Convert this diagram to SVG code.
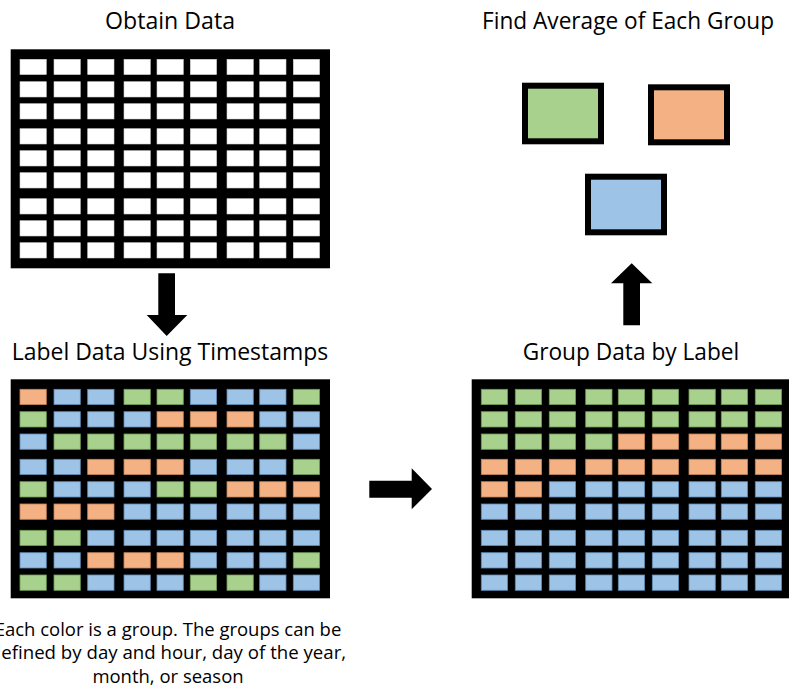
<svg xmlns="http://www.w3.org/2000/svg" xmlns:xlink="http://www.w3.org/1999/xlink" width="789" height="693" viewBox="0 0 789 693">
<style>
.t{font-family:"Open Sans","Noto Sans","Liberation Sans",sans-serif;fill:#000;text-anchor:middle}
.title{font-size:23.5px}
.note{font-size:19px}
.bg{fill:#000}
.w{fill:#fff;stroke:#d0d0d0;stroke-width:0.6}
.g{fill:#A9D18E;stroke:#6f9a55;stroke-width:0.8}
.o{fill:#F4B183;stroke:#c0835a;stroke-width:0.8}
.b{fill:#9DC3E6;stroke:#5f8bb3;stroke-width:0.8}
.box{stroke:#000;stroke-width:6}
.arrow{fill:#000}
</style>
<defs>
<rect id="c" width="26.3" height="15.3"/>
<g id="rowL">
<use xlink:href="#c" x="20"/><use xlink:href="#c" x="54"/><use xlink:href="#c" x="87.7"/>
<use xlink:href="#c" x="124"/><use xlink:href="#c" x="157"/><use xlink:href="#c" x="190.3"/>
<use xlink:href="#c" x="227"/><use xlink:href="#c" x="259.7"/><use xlink:href="#c" x="293.3"/>
</g>
<g id="rowR">
<use xlink:href="#c" x="481.3"/><use xlink:href="#c" x="515.3"/><use xlink:href="#c" x="549.3"/>
<use xlink:href="#c" x="585.7"/><use xlink:href="#c" x="618.3"/><use xlink:href="#c" x="652.3"/>
<use xlink:href="#c" x="689"/><use xlink:href="#c" x="721.3"/><use xlink:href="#c" x="755.3"/>
</g>
</defs>
<rect width="789" height="693" fill="#fff"/>

<g id="title-obtain"><text class="t title" x="170" y="28.5" textLength="130" lengthAdjust="spacingAndGlyphs">Obtain Data</text></g>
<g id="title-average"><text class="t title" x="628" y="28.5" textLength="292" lengthAdjust="spacingAndGlyphs">Find Average of Each Group</text></g>
<g id="title-label"><text class="t title" x="170" y="360" textLength="316.6" lengthAdjust="spacingAndGlyphs">Label Data Using Timestamps</text></g>
<g id="title-group"><text class="t title" x="631" y="360" textLength="216.6" lengthAdjust="spacingAndGlyphs">Group Data by Label</text></g>

<g id="grid-obtain">
<rect class="bg" x="10.7" y="49.3" width="319.3" height="219"/>
<use xlink:href="#rowL" class="w" y="59.3"/>
<use xlink:href="#rowL" class="w" y="81.7"/>
<use xlink:href="#rowL" class="w" y="103.7"/>
<use xlink:href="#rowL" class="w" y="128.7"/>
<use xlink:href="#rowL" class="w" y="150.7"/>
<use xlink:href="#rowL" class="w" y="172.7"/>
<use xlink:href="#rowL" class="w" y="198.7"/>
<use xlink:href="#rowL" class="w" y="220.7"/>
<use xlink:href="#rowL" class="w" y="242.7"/>
</g>

<g id="grid-label">
<rect class="bg" x="10.7" y="379.3" width="319.3" height="219"/>
<g transform="translate(0,389.3)">
<use xlink:href="#c" class="o" x="20"/><use xlink:href="#c" class="b" x="54"/><use xlink:href="#c" class="b" x="87.7"/>
<use xlink:href="#c" class="g" x="124"/><use xlink:href="#c" class="g" x="157"/><use xlink:href="#c" class="b" x="190.3"/>
<use xlink:href="#c" class="b" x="227"/><use xlink:href="#c" class="b" x="259.7"/><use xlink:href="#c" class="g" x="293.3"/>
</g>
<g transform="translate(0,411.7)">
<use xlink:href="#c" class="g" x="20"/><use xlink:href="#c" class="b" x="54"/><use xlink:href="#c" class="b" x="87.7"/>
<use xlink:href="#c" class="b" x="124"/><use xlink:href="#c" class="o" x="157"/><use xlink:href="#c" class="o" x="190.3"/>
<use xlink:href="#c" class="o" x="227"/><use xlink:href="#c" class="b" x="259.7"/><use xlink:href="#c" class="b" x="293.3"/>
</g>
<g transform="translate(0,434)">
<use xlink:href="#c" class="b" x="20"/><use xlink:href="#c" class="g" x="54"/><use xlink:href="#c" class="g" x="87.7"/>
<use xlink:href="#c" class="g" x="124"/><use xlink:href="#c" class="g" x="157"/><use xlink:href="#c" class="g" x="190.3"/>
<use xlink:href="#c" class="g" x="227"/><use xlink:href="#c" class="g" x="259.7"/><use xlink:href="#c" class="b" x="293.3"/>
</g>
<g transform="translate(0,459.3)">
<use xlink:href="#c" class="b" x="20"/><use xlink:href="#c" class="b" x="54"/><use xlink:href="#c" class="o" x="87.7"/>
<use xlink:href="#c" class="o" x="124"/><use xlink:href="#c" class="o" x="157"/><use xlink:href="#c" class="b" x="190.3"/>
<use xlink:href="#c" class="b" x="227"/><use xlink:href="#c" class="b" x="259.7"/><use xlink:href="#c" class="g" x="293.3"/>
</g>
<g transform="translate(0,481.7)">
<use xlink:href="#c" class="g" x="20"/><use xlink:href="#c" class="b" x="54"/><use xlink:href="#c" class="b" x="87.7"/>
<use xlink:href="#c" class="b" x="124"/><use xlink:href="#c" class="g" x="157"/><use xlink:href="#c" class="g" x="190.3"/>
<use xlink:href="#c" class="o" x="227"/><use xlink:href="#c" class="o" x="259.7"/><use xlink:href="#c" class="o" x="293.3"/>
</g>
<g transform="translate(0,504)">
<use xlink:href="#c" class="o" x="20"/><use xlink:href="#c" class="o" x="54"/><use xlink:href="#c" class="o" x="87.7"/>
<use xlink:href="#c" class="b" x="124"/><use xlink:href="#c" class="b" x="157"/><use xlink:href="#c" class="b" x="190.3"/>
<use xlink:href="#c" class="b" x="227"/><use xlink:href="#c" class="b" x="259.7"/><use xlink:href="#c" class="b" x="293.3"/>
</g>
<g transform="translate(0,530.3)">
<use xlink:href="#c" class="g" x="20"/><use xlink:href="#c" class="g" x="54"/><use xlink:href="#c" class="b" x="87.7"/>
<use xlink:href="#c" class="b" x="124"/><use xlink:href="#c" class="b" x="157"/><use xlink:href="#c" class="b" x="190.3"/>
<use xlink:href="#c" class="b" x="227"/><use xlink:href="#c" class="b" x="259.7"/><use xlink:href="#c" class="b" x="293.3"/>
</g>
<g transform="translate(0,552.7)">
<use xlink:href="#c" class="b" x="20"/><use xlink:href="#c" class="b" x="54"/><use xlink:href="#c" class="o" x="87.7"/>
<use xlink:href="#c" class="o" x="124"/><use xlink:href="#c" class="o" x="157"/><use xlink:href="#c" class="b" x="190.3"/>
<use xlink:href="#c" class="b" x="227"/><use xlink:href="#c" class="b" x="259.7"/><use xlink:href="#c" class="g" x="293.3"/>
</g>
<g transform="translate(0,575)">
<use xlink:href="#c" class="g" x="20"/><use xlink:href="#c" class="g" x="54"/><use xlink:href="#c" class="b" x="87.7"/>
<use xlink:href="#c" class="b" x="124"/><use xlink:href="#c" class="b" x="157"/><use xlink:href="#c" class="g" x="190.3"/>
<use xlink:href="#c" class="g" x="227"/><use xlink:href="#c" class="b" x="259.7"/><use xlink:href="#c" class="b" x="293.3"/>
</g>
</g>

<g id="grid-group">
<rect class="bg" x="471.7" y="379.3" width="319.3" height="219"/>
<use xlink:href="#rowR" class="g" y="389.3"/>
<use xlink:href="#rowR" class="g" y="411.7"/>
<g transform="translate(0,434)">
<use xlink:href="#c" class="g" x="481.3"/><use xlink:href="#c" class="g" x="515.3"/><use xlink:href="#c" class="g" x="549.3"/>
<use xlink:href="#c" class="g" x="585.7"/><use xlink:href="#c" class="o" x="618.3"/><use xlink:href="#c" class="o" x="652.3"/>
<use xlink:href="#c" class="o" x="689"/><use xlink:href="#c" class="o" x="721.3"/><use xlink:href="#c" class="o" x="755.3"/>
</g>
<use xlink:href="#rowR" class="o" y="459.3"/>
<g transform="translate(0,481.7)">
<use xlink:href="#c" class="o" x="481.3"/><use xlink:href="#c" class="o" x="515.3"/><use xlink:href="#c" class="b" x="549.3"/>
<use xlink:href="#c" class="b" x="585.7"/><use xlink:href="#c" class="b" x="618.3"/><use xlink:href="#c" class="b" x="652.3"/>
<use xlink:href="#c" class="b" x="689"/><use xlink:href="#c" class="b" x="721.3"/><use xlink:href="#c" class="b" x="755.3"/>
</g>
<use xlink:href="#rowR" class="b" y="504"/>
<use xlink:href="#rowR" class="b" y="530.3"/>
<use xlink:href="#rowR" class="b" y="552.7"/>
<use xlink:href="#rowR" class="b" y="575"/>
</g>

<g id="avg-green"><rect class="box" x="525" y="85.7" width="76" height="55.6" fill="#A9D18E"/></g>
<g id="avg-orange"><rect class="box" x="651" y="87.3" width="76" height="55" fill="#F4B183"/></g>
<g id="avg-blue"><rect class="box" x="588" y="176.7" width="76" height="55.6" fill="#9DC3E6"/></g>

<g id="connectors">
<polygon class="arrow" points="158.3,273.3 175,273.3 175,315 187.3,315 166.7,336 146.7,315 158.3,315"/>
<polygon class="arrow" points="369.3,480.7 411.7,480.7 411.7,468.3 432,489 411.7,509.3 411.7,497.7 369.3,497.7"/>
<polygon class="arrow" points="623.3,325.3 623.3,283.3 611,283.3 631.7,263.3 652.3,283.3 640,283.3 640,325.3"/>
</g>

<g id="note">
<text class="t note" x="168" y="636" textLength="346.6" lengthAdjust="spacingAndGlyphs">Each color is a group. The groups can be</text>
<text class="t note" x="168" y="659.3" textLength="356.3" lengthAdjust="spacingAndGlyphs">defined by day and hour, day of the year,</text>
<text class="t note" x="168" y="682.5" textLength="151.2" lengthAdjust="spacingAndGlyphs">month, or season</text>
</g>
</svg>
